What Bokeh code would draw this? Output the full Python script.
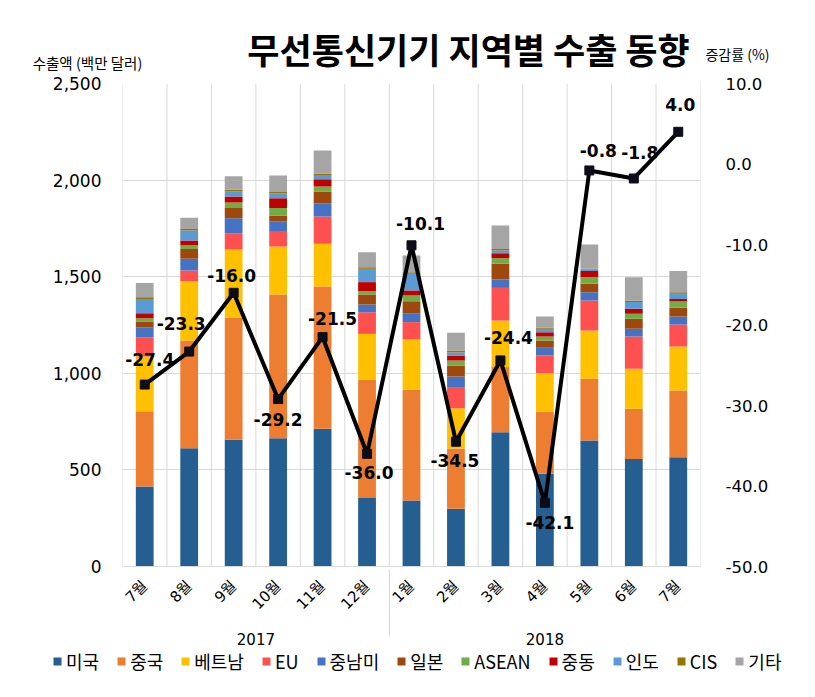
import math
from bokeh.plotting import figure
from bokeh.layouts import column
from bokeh.models import (ColumnDataSource, FactorRange, LinearAxis, Range1d, FixedTicker,
                          NumeralTickFormatter, Span, Legend, LegendItem, Label, LabelSet)
from bokeh.core.properties import value
from bokeh.embed import file_html
from bokeh.resources import INLINE

# ---------------- data ----------------
years = ["2017"] * 6 + ["2018"] * 7
months = ["7월", "8월", "9월", "10월", "11월", "12월", "1월", "2월", "3월", "4월", "5월", "6월", "7월"]
regions = ["미국", "중국", "베트남", "EU", "중남미", "일본", "ASEAN", "중동", "인도", "CIS", "기타"]

usa     = [414, 612, 656, 664, 713, 354, 342, 299, 695, 480, 652, 557, 566]
china   = [390, 558, 631, 744, 736, 614, 573, 312, 337, 322, 320, 259, 345]
vietnam = [283, 307, 354, 248, 221, 236, 260, 208, 241, 199, 250, 207, 228]
eu      = [100, 55, 84, 80, 142, 112, 90, 106, 169, 91, 155, 167, 114]
latam   = [52, 61, 78, 51, 68, 40, 46, 58, 44, 40, 43, 40, 41]
japan   = [29, 51, 52, 30, 61, 52, 62, 57, 81, 38, 43, 52, 45]
asean   = [17, 19, 29, 38, 26, 17, 30, 26, 29, 20, 35, 26, 33]
mideast = [26, 24, 31, 51, 38, 47, 26, 26, 26, 23, 31, 26, 13]
india   = [73, 52, 26, 26, 17, 69, 86, 16, 14, 17, 8, 35, 27]
cis     = [10, 8, 9, 6, 11, 8, 8, 10, 8, 6, 4, 8, 8]
other   = [74, 58, 70, 86, 120, 78, 87, 92, 121, 58, 126, 120, 109]

growth = [-27.4, -23.3, -16.0, -29.2, -21.5, -36.0, -10.1, -34.5, -24.4, -42.1, -0.8, -1.8, 4.0]

left_ticks = [0, 500, 1000, 1500, 2000, 2500]
right_ticks = [-50, -40, -30, -20, -10, 0, 10]

title_text = "무선통신기기 지역별 수출 동향"
left_title = "수출액 (백만 달러)"
right_title = "증감률 (%)"

# ---------------- styles ----------------
colors = ["#255E91", "#ED7D31", "#FFC000", "#FF5050", "#4472C4", "#9E480E",
          "#70AD47", "#C00000", "#5B9BD5", "#997300", "#A5A5A5"]
label_dx = [5, -8, -2, 0, 10, 2, 9, -1, 8, 5, 9, 6, 2]
label_dy = [25, 28, 17, -20, 19, -19, 22, -19, 23, -20, 20, 26, 27]
NUM_FONT = "DejaVu Sans"
KR_FONT = "Noto Sans CJK KR"
MIX_FONT = "DejaVu Sans, Noto Sans CJK KR"
GRID = "#d9d9d9"
W = 812
TOP_H = 74
FRAME_TOP_PAD = 83 - TOP_H
FRAME_H = 483
AXIS_PAD = 82
MAIN_H = FRAME_TOP_PAD + FRAME_H + AXIS_PAD
BOT_H = 695 - TOP_H - MAIN_H


def no_frame_align(f):
    if "frame_align" in f.properties():
        f.frame_align = False


def bare(f):
    f.title.visible = False
    f.outline_line_color = None
    f.xgrid.visible = False
    f.ygrid.visible = False
    f.background_fill_color = "white"
    f.border_fill_color = "white"


# ---------------- header (title + axis titles) ----------------
top = figure(width=W, height=TOP_H, output_backend="svg", toolbar_location=None,
             x_range=Range1d(0, W), y_range=Range1d(0, TOP_H),
             x_axis_type=None, y_axis_type=None,
             min_border_left=0, min_border_right=0, min_border_top=0, min_border_bottom=0)
bare(top)
no_frame_align(top)
top.add_layout(Label(x=468, y=TOP_H - 48, text=title_text, text_align="center",
                     text_baseline="middle", text_font=KR_FONT, text_font_style="bold",
                     text_font_size="35px", text_color="black"))
top.add_layout(Label(x=87, y=TOP_H - 62, text=left_title, text_align="center",
                     text_baseline="middle", text_font=KR_FONT, text_font_size="14.5px",
                     text_color="black"))
top.add_layout(Label(x=737, y=TOP_H - 53, text=right_title, text_align="center",
                     text_baseline="middle", text_font=KR_FONT, text_font_size="14px",
                     text_color="black"))

# ---------------- main chart ----------------
x = list(zip(years, months))
series = [usa, china, vietnam, eu, latam, japan, asean, mideast, india, cis, other]
data = {"x": x}
for name, vals in zip(regions, series):
    data[name] = vals
source = ColumnDataSource(data)

p = figure(x_range=FactorRange(factors=x, factor_padding=0, group_padding=0, range_padding=0),
           y_range=Range1d(0, 2500),
           width=W, height=MAIN_H, output_backend="svg", toolbar_location=None,
           min_border_left=122, min_border_right=W - 700, min_border_top=FRAME_TOP_PAD,
           min_border_bottom=AXIS_PAD)
p.title.visible = False
p.outline_line_color = None
p.background_fill_color = "white"
p.border_fill_color = "white"
p.extra_y_ranges = {"right": Range1d(-50, 10)}

# grids
p.xgrid.visible = False
p.ygrid.grid_line_color = GRID
p.ygrid.grid_line_width = 1
for k in range(len(months) + 1):
    p.add_layout(Span(location=k, dimension="height", line_color=GRID, line_width=1, level="underlay"))

# left axis
yax = p.yaxis[0]
yax.ticker = FixedTicker(ticks=left_ticks)
yax.formatter = NumeralTickFormatter(format="0,0")
yax.axis_line_color = None
yax.major_tick_line_color = None
yax.minor_tick_line_color = None
yax.major_label_standoff = 15
yax.major_label_text_font = NUM_FONT
yax.major_label_text_font_size = "17px"
yax.major_label_text_color = "black"

# right axis
rax = LinearAxis(y_range_name="right", ticker=FixedTicker(ticks=right_ticks),
                 formatter=NumeralTickFormatter(format="0.0"))
rax.axis_line_color = None
rax.major_tick_line_color = None
rax.minor_tick_line_color = None
rax.major_label_standoff = 19
rax.major_label_text_font = NUM_FONT
rax.major_label_text_font_size = "16.5px"
rax.major_label_text_color = "black"
p.add_layout(rax, "right")

# x axis
xax = p.xaxis[0]
xax.axis_line_color = GRID
xax.major_tick_line_color = None
xax.minor_tick_line_color = None
xax.major_label_orientation = math.pi / 4
xax.major_label_standoff = 11
xax.major_label_text_font = MIX_FONT
xax.major_label_text_font_size = "15px"
xax.major_label_text_color = "black"
xax.group_text_font = NUM_FONT
xax.group_text_font_size = "15px"
xax.group_text_color = "black"
xax.group_text_font_style = "normal"
xax.separator_line_color = GRID
xax.separator_line_width = 1

# stacked bars
bars = p.vbar_stack(regions, x="x", width=0.4, color=colors, line_color=None, source=source)

# growth line
gsrc = ColumnDataSource({"x": x, "growth": growth,
                         "glabel": [f"{g:.1f}" for g in growth],
                         "dx": label_dx, "dy": label_dy})
p.line(x="x", y="growth", y_range_name="right", source=gsrc, line_color="black", line_width=4)
p.scatter(x="x", y="growth", y_range_name="right", source=gsrc, marker="square",
          size=9, color="#0d0d1a")
p.add_layout(LabelSet(x="x", y="growth", text="glabel", y_range_name="right", source=gsrc,
                      x_offset="dx", y_offset="dy", text_align="center", text_baseline="middle",
                      text_font=value(NUM_FONT), text_font_style="bold",
                      text_font_size="17px", text_color="black"))

# ---------------- legend strip ----------------
bot = figure(width=W, height=BOT_H, output_backend="svg", toolbar_location=None,
             x_range=FactorRange(factors=x), y_range=Range1d(5000, 6000),
             x_axis_type=None, y_axis_type=None,
             min_border_left=0, min_border_right=0, min_border_top=0, min_border_bottom=0)
bare(bot)
no_frame_align(bot)
swatches = bot.vbar_stack(regions, x="x", width=0.4, color=colors, line_color=None, source=source)
legend = Legend(items=[LegendItem(label=r, renderers=[b]) for r, b in zip(regions, swatches)],
                orientation="horizontal", location=(52, BOT_H - 26),
                glyph_width=10, glyph_height=10, label_standoff=4, spacing=17,
                padding=0, margin=0, border_line_color=None, background_fill_alpha=0,
                label_text_font=KR_FONT, label_text_font_size="18px", label_text_color="black")
bot.add_layout(legend)

layout = column(top, p, bot, spacing=0)
open("out.html", "w").write(file_html(layout, INLINE))
